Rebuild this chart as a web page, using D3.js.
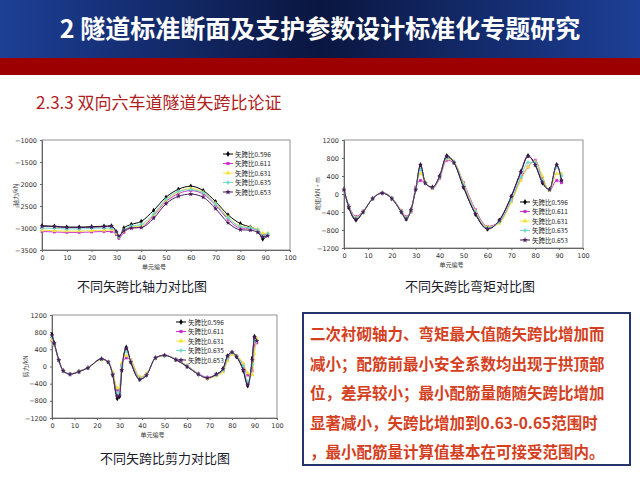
<!DOCTYPE html>
<html><head><meta charset="utf-8">
<script src="https://cdn.jsdelivr.net/npm/d3@7"></script>
<style>body{margin:0;background:#fff}svg{display:block}</style>
</head><body>
<svg id="c" width="640" height="480"></svg>
<script>
// series labels and colours
const seriesNames = ["矢跨比0.596","矢跨比0.611","矢跨比0.631","矢跨比0.635","矢跨比0.653"];
const seriesColors = ["#000000","#cc33cc","#f2e23a","#6fd8c8","#4a1a5e"];

// axial force
const axialX = [0,5,10,15,20,25,28,30,31,33,36,40,45,50,55,60,65,70,75,80,84,87,89,91];
const axial596 = [-2950,-2960,-2980,-2980,-2970,-2960,-2950,-3100,-3220,-3000,-2920,-2850,-2600,-2300,-2120,-2050,-2150,-2400,-2700,-2900,-2980,-3050,-3250,-3150];
const axial611 = [-3080,-3090,-3100,-3100,-3090,-3080,-3080,-3150,-3230,-3100,-3000,-2980,-2720,-2400,-2220,-2150,-2230,-2480,-2800,-3000,-3010,-3050,-3150,-3150];
const axial631 = [-3050,-3060,-3070,-3070,-3060,-3050,-3040,-3120,-3200,-3070,-2980,-2950,-2700,-2370,-2180,-2100,-2190,-2440,-2750,-2960,-2990,-3030,-3120,-3120];
const axial635 = [-3000,-3010,-3020,-3020,-3010,-3000,-3000,-3100,-3200,-3050,-2960,-2920,-2680,-2350,-2170,-2130,-2200,-2460,-2770,-2970,-3000,-3050,-3180,-3130];
const axial653 = [-2960,-2970,-2990,-2990,-2980,-2970,-2960,-3080,-3180,-3060,-3000,-2990,-2780,-2450,-2280,-2230,-2300,-2560,-2880,-3040,-3050,-3100,-3200,-3180];

// bending moment
const momentX = [0,2,5,8,12,16,20,24,26,28,30,32,34,37,40,43,46,50,55,60,65,70,74,77,80,83,86,89,91];
const moment596 = [100,-300,-580,-400,-100,20,-100,-400,-560,-350,100,650,250,150,400,850,700,150,-450,-780,-580,-50,500,850,650,250,100,650,300];
const moment611 = [80,-250,-500,-380,-100,30,-80,-370,-500,-400,150,300,250,120,350,750,700,250,-350,-720,-620,-150,350,600,750,350,80,300,250];
const moment631 = [90,-270,-520,-390,-100,30,-90,-380,-520,-380,120,450,280,130,370,780,720,230,-380,-730,-650,-180,300,600,720,400,80,450,450];
const moment635 = [90,-270,-530,-390,-100,25,-90,-390,-530,-370,110,550,250,140,380,800,720,200,-400,-750,-620,-130,380,700,700,300,90,600,400];
const moment653 = [100,-290,-560,-400,-100,20,-100,-400,-550,-360,100,640,240,150,390,830,700,160,-440,-770,-590,-60,480,840,650,260,100,640,300];

// shear force
const shearX = [0,1,3,5,8,12,16,22,25,27,29,30,31,33,35,39,42,46,50,55,60,65,69,73,76,78,80,82,85,87,89,90,91];
const shear596 = [750,550,150,-100,-180,-120,-30,180,100,-200,-750,-700,-100,450,100,-300,-200,200,260,160,0,-180,-270,-180,-50,250,330,230,-100,-450,200,700,600];
const shear611 = [600,500,150,-100,-170,-110,-30,170,110,-150,-550,-550,50,200,150,-250,-180,200,260,170,20,-160,-250,-190,-100,150,320,250,50,-200,-100,500,550];
const shear631 = [620,510,150,-100,-170,-110,-30,160,100,-130,-500,-500,80,250,150,-240,-160,190,250,170,20,-170,-280,-220,-130,130,280,250,70,-150,-200,300,650];
const shear635 = [680,520,150,-100,-175,-115,-30,170,100,-180,-650,-600,0,350,120,-280,-190,200,255,165,10,-175,-260,-200,-80,200,320,240,0,-350,50,600,600];
const shear653 = [720,540,150,-100,-180,-120,-30,175,100,-190,-700,-680,-80,420,110,-300,-200,200,260,160,0,-180,-270,-185,-60,240,330,230,-80,-430,150,680,600];

const xTicks = [0,10,20,30,40,50,60,70,80,90,100];
const axialTicks = [-1000,-1500,-2000,-2500,-3000,-3500];
const momentTicks = [1200,800,400,0,-400,-800,-1200];
const shearTicks = [1200,800,400,0,-400,-800,-1200];

const titleText = "2 隧道标准断面及支护参数设计标准化专题研究";
const subTitle = "2.3.3  双向六车道隧道矢跨比论证";
const noteLines = ["二次衬砌轴力、弯矩最大值随矢跨比增加而","减小；配筋前最小安全系数均出现于拱顶部","位，差异较小；最小配筋量随随矢跨比增加","显著减小，矢跨比增加到0.63-0.65范围时","，最小配筋量计算值基本在可接受范围内。"];

const svg = d3.select("#c");
const cjk = "'Noto Sans CJK SC', sans-serif";

// header
const defs = svg.append("defs");
const g = defs.append("linearGradient").attr("id","hdr");
g.append("stop").attr("offset","0%").attr("stop-color","#1d3f96");
g.append("stop").attr("offset","50%").attr("stop-color","#0a1640");
g.append("stop").attr("offset","100%").attr("stop-color","#1d3f96");
svg.append("rect").attr("width",640).attr("height",58).attr("fill","url(#hdr)");
svg.append("rect").attr("y",58).attr("width",640).attr("height",17).attr("fill","#9c0000");
svg.append("text").attr("x",320).attr("y",38).attr("text-anchor","middle")
  .attr("fill","#fff").attr("font-family",cjk).attr("font-weight",700).attr("font-size",25).text(titleText);
svg.append("text").attr("x",36).attr("y",109).attr("fill","#b02020")
  .attr("font-family",cjk).attr("font-size",17).text(subTitle);

const markers = [d3.symbolDiamond, d3.symbolSquare, d3.symbolTriangle, d3.symbolCross, d3.symbolStar];

function drawChart(cfg) {
  const x = d3.scaleLinear().domain([0,100]).range([cfg.x0, cfg.x1]);
  const y = d3.scaleLinear().domain(cfg.ydom).range([cfg.y1, cfg.y0]);
  const gg = svg.append("g");
  gg.append("rect").attr("x",cfg.x0).attr("y",cfg.y0).attr("width",cfg.x1-cfg.x0).attr("height",cfg.y1-cfg.y0)
    .attr("fill","none").attr("stroke","#777").attr("stroke-width",0.8);
  const ax = gg.append("g").attr("transform",`translate(0,${cfg.y1})`)
    .call(d3.axisBottom(x).tickValues(xTicks).tickSize(2).tickFormat(d3.format("d")));
  const ay = gg.append("g").attr("transform",`translate(${cfg.x0},0)`)
    .call(d3.axisLeft(y).tickValues(cfg.yticks).tickSize(2).tickFormat(d3.format("d")));
  [ax, ay].forEach(a => {
    a.selectAll("text").attr("font-size",6.5).attr("fill","#333").attr("font-family","'DejaVu Sans'");
    a.selectAll("path,line").attr("stroke","#666");
  });
  const line = d3.line().x((d,i) => x(cfg.xs[i])).y(d => y(d)).curve(d3.curveMonotoneX);
  cfg.series.forEach((s, k) => {
    gg.append("path").datum(s).attr("d", line).attr("fill","none")
      .attr("stroke", seriesColors[k]).attr("stroke-width", 1);
    gg.selectAll(null).data(s).join("path")
      .attr("transform",(d,i) => `translate(${x(cfg.xs[i])},${y(d)})`)
      .attr("d", d3.symbol(markers[k], 8)).attr("fill", seriesColors[k]);
  });
  // legend
  seriesNames.forEach((n, k) => {
    const ly = cfg.ly + k*9.5;
    gg.append("line").attr("x1",cfg.lx).attr("x2",cfg.lx+10).attr("y1",ly).attr("y2",ly)
      .attr("stroke",seriesColors[k]).attr("stroke-width",1);
    gg.append("path").attr("transform",`translate(${cfg.lx+5},${ly})`)
      .attr("d", d3.symbol(markers[k], 10)).attr("fill",seriesColors[k]);
    gg.append("text").attr("x",cfg.lx+12).attr("y",ly+2.5).attr("font-size",6.5)
      .attr("font-family",cjk).attr("fill","#222").text(n);
  });
  gg.append("text").attr("x",(cfg.x0+cfg.x1)/2 - 12).attr("y",cfg.y1+19).attr("text-anchor","middle")
    .attr("font-size",6).attr("font-family",cjk).attr("fill","#333").text("单元编号");
  gg.append("text").attr("transform",`translate(${cfg.x0-24},${(cfg.y0+cfg.y1)/2}) rotate(-90)`)
    .attr("text-anchor","middle").attr("font-size",6).attr("font-family",cjk).attr("fill","#333").text(cfg.ylab);
  svg.append("text").attr("x",cfg.cx).attr("y",cfg.cy).attr("text-anchor","middle")
    .attr("font-size",13).attr("font-family",cjk).attr("fill","#1a1a2a").text(cfg.caption);
}

drawChart({x0:42,x1:290,y0:140,y1:250,ydom:[-3500,-1000],yticks:axialTicks,xs:axialX,
  series:[axial596,axial611,axial631,axial635,axial653],lx:223,ly:154,ylab:"轴力/kN",
  caption:"不同矢跨比轴力对比图",cx:142,cy:291});
drawChart({x0:344,x1:583,y0:140,y1:248,ydom:[-1200,1200],yticks:momentTicks,xs:momentX,
  series:[moment596,moment611,moment631,moment635,moment653],lx:520,ly:202,ylab:"弯矩/kN·m",
  caption:"不同矢跨比弯矩对比图",cx:470,cy:291});
drawChart({x0:52,x1:277,y0:315,y1:418,ydom:[-1200,1200],yticks:shearTicks,xs:shearX,
  series:[shear596,shear611,shear631,shear635,shear653],lx:176,ly:322,ylab:"剪力/kN",
  caption:"不同矢跨比剪力对比图",cx:165,cy:463});

// note box
svg.append("rect").attr("x",303).attr("y",313).attr("width",327).attr("height",152)
  .attr("fill","#fff").attr("stroke","#26346e").attr("stroke-width",2);
svg.selectAll(null).data(noteLines).join("text")
  .attr("x",310).attr("y",(d,i) => 340 + i*29.5)
  .attr("font-size",15.5).attr("font-family",cjk).attr("font-weight",700)
  .attr("fill","#d4401e").text(d => d);
</script>
</body></html>
